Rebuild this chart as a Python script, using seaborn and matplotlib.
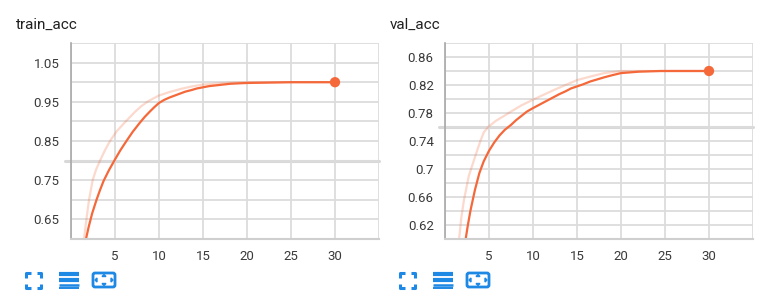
import matplotlib
matplotlib.use("Agg")
import matplotlib.pyplot as plt
import seaborn as sns
import pandas as pd
from matplotlib.patches import FancyBboxPatch, Polygon

# ---------------- data ----------------
train_smooth_x = [1.7, 2.0, 2.4, 2.9, 3.3, 3.7, 4.3, 5.0, 5.6, 6.3, 7.0, 7.8, 8.4, 9.0, 9.5, 10.0, 10.6, 11.2,
                  11.8, 12.4, 13.0, 13.7, 14.3, 15.0, 15.7, 16.5, 17.3, 18.1, 19.0, 20.0, 21.2, 22.5, 25.0, 30.0]
train_smooth_y = [0.600, 0.630, 0.665, 0.700, 0.725, 0.748, 0.775, 0.803, 0.826, 0.850, 0.873, 0.896, 0.912, 0.926,
                  0.937, 0.947, 0.955, 0.961, 0.966, 0.971, 0.976, 0.980, 0.984, 0.987, 0.990, 0.992, 0.994, 0.996,
                  0.997, 0.998, 0.9985, 0.999, 1.000, 1.000]
train_raw_x = [1.48, 1.75, 2.05, 2.46, 2.85, 3.3, 3.85, 4.43, 5.2, 6.14, 7.3, 8.0, 8.8, 10.0, 11.2, 12.5, 13.7,
               15.0, 16.3, 17.5, 20.0, 30.0]
train_raw_y = [0.600, 0.650, 0.700, 0.750, 0.777, 0.800, 0.826, 0.850, 0.875, 0.898, 0.925, 0.939, 0.952, 0.966,
               0.975, 0.983, 0.989, 0.994, 0.996, 0.998, 1.000, 1.000]

val_smooth_x = [2.35, 2.6, 2.9, 3.4, 3.9, 4.4, 5.0, 5.6, 6.2, 6.8, 7.5, 8.1, 8.7, 9.3, 10.0, 10.6, 11.2, 11.8, 12.4,
                13.0, 13.7, 14.3, 15.0, 15.7, 16.5, 17.3, 18.1, 19.0, 20.0, 21.0, 22.0, 24.5, 30.0]
val_smooth_y = [0.600, 0.620, 0.641, 0.670, 0.694, 0.711, 0.726, 0.738, 0.748, 0.756, 0.763, 0.770, 0.776, 0.782,
                0.787, 0.791, 0.795, 0.799, 0.803, 0.807, 0.811, 0.815, 0.818, 0.821, 0.825, 0.828, 0.831, 0.834,
                0.837, 0.838, 0.839, 0.840, 0.840]
val_raw_x = [1.6, 1.85, 2.16, 2.7, 3.3, 3.67, 4.05, 4.43, 5.0, 5.8, 6.6, 7.5, 8.7, 10.0, 11.2, 12.4, 13.7, 15.0,
             16.5, 18.1, 20.0, 30.0]
val_raw_y = [0.600, 0.630, 0.656, 0.690, 0.713, 0.727, 0.741, 0.753, 0.761, 0.769, 0.775, 0.782, 0.791, 0.799,
             0.806, 0.813, 0.820, 0.827, 0.832, 0.837, 0.840, 0.840]

titles = ["train_acc", "val_acc"]
x_ticks = [0, 5, 10, 15, 20, 25, 30, 35]
x_labels = ["", "5", "10", "15", "20", "25", "30", ""]
train_yticks = [0.65, 0.75, 0.85, 0.95, 1.05]
train_ylabels = ["0.65", "0.75", "0.85", "0.95", "1.05"]
val_yticks = [0.62, 0.66, 0.70, 0.74, 0.78, 0.82, 0.86]
val_ylabels = ["0.62", "0.66", "0.7", "0.74", "0.78", "0.82", "0.86"]

# ---------------- style ----------------
sns.set_theme(style="white")
plt.rcParams["font.family"] = ["Roboto", "DejaVu Sans"]

W, H = 782, 303
fig = plt.figure(figsize=(W / 100, H / 100), dpi=100)

ORANGE = "#f4683a"
GRID = "#dcdcdc"
BLUE = "#1e88e5"


def px_axes(l, t, r, b):
    return fig.add_axes([l / W, (H - b) / H, (r - l) / W, (b - t) / H])


def setup(ax, ylim, yticks, ylabels, minor_step, thick_y):
    ax.set_xlim(0, 35)
    ax.set_ylim(*ylim)
    ax.set_xticks(x_ticks)
    ax.set_xticklabels(x_labels)
    ax.set_yticks(yticks)
    ax.set_yticklabels(ylabels)
    n = int(round((ylim[1] - ylim[0]) / minor_step))
    minors = [ylim[0] + i * minor_step for i in range(n + 1)]
    ax.set_yticks(minors, minor=True)
    ax.grid(True, which="both", axis="y", color=GRID, lw=1.3)
    ax.grid(True, which="major", axis="x", color=GRID, lw=1.3)
    ax.tick_params(axis="both", which="both", length=3.6, width=1.0, color=GRID,
                   labelsize=9.5, labelcolor="#3a3a3a", direction="out")
    ax.tick_params(axis="y", which="both", pad=4.5)
    ax.tick_params(axis="x", which="both", pad=4)
    for s in ["top", "right"]:
        ax.spines[s].set_visible(False)
    ax.spines["left"].set_color("#a8a8a8")
    ax.spines["left"].set_linewidth(1.2)
    ax.spines["bottom"].set_color("#cfcfcf")
    ax.spines["bottom"].set_linewidth(1.5)
    ax.axhline(thick_y, xmin=-0.018, xmax=1.0, color="#d8d8d8", lw=2.2, clip_on=False, zorder=0.5)
    ax.set_xlabel("")
    ax.set_ylabel("")


def draw(ax, rx, ry, sx, sy):
    sns.lineplot(x=rx, y=ry, ax=ax, color=ORANGE, alpha=0.25, lw=1.6, sort=False, estimator=None)
    sns.lineplot(x=sx, y=sy, ax=ax, color=ORANGE, lw=1.6, sort=False, estimator=None)
    sns.scatterplot(x=[sx[-1]], y=[sy[-1]], ax=ax, color=ORANGE, s=55, edgecolor="none", zorder=5)


ax1 = px_axes(71, 43, 379, 239)
draw(ax1, train_raw_x, train_raw_y, train_smooth_x, train_smooth_y)
setup(ax1, (0.6, 1.1), train_yticks, train_ylabels, 0.05, 0.8)

ax2 = px_axes(445, 43, 753, 239)
draw(ax2, val_raw_x, val_raw_y, val_smooth_x, val_smooth_y)
setup(ax2, (0.6, 0.88), val_yticks, val_ylabels, 0.02, 0.76)

for ax in (ax1, ax2):
    for line in ax.lines:
        line.set_clip_on(False)
    for c in ax.collections:
        c.set_clip_on(False)

fig.text(16 / W, 1 - 29 / H, titles[0], fontsize=11, color="#212121", va="baseline", ha="left")
fig.text(390 / W, 1 - 29 / H, titles[1], fontsize=11, color="#212121", va="baseline", ha="left")

# ---------------- toolbar icons ----------------
ov = fig.add_axes([0, 0, 1, 1], zorder=-1)
ov.set_xlim(0, W)
ov.set_ylim(H, 0)
ov.axis("off")


def icons(dx):
    x0, x1, y0, y1 = 26 + dx, 41 + dx, 273, 288
    L = 4.5
    kw = dict(color=BLUE, lw=2.2, solid_capstyle="butt")
    ov.plot([x0, x0, x0 + L], [y0 + L, y0, y0], **kw)
    ov.plot([x1 - L, x1, x1], [y0, y0, y0 + L], **kw)
    ov.plot([x0, x0, x0 + L], [y1 - L, y1, y1], **kw)
    ov.plot([x1 - L, x1, x1], [y1, y1, y1 - L], **kw)
    for yy, lw in [(274, 3.0), (279.5, 3.0), (284.5, 1.8), (287.5, 1.4)]:
        ov.plot([59 + dx, 79 + dx], [yy, yy], color=BLUE, lw=lw, solid_capstyle="butt")
    ov.add_patch(FancyBboxPatch((93 + dx, 273), 22, 14, boxstyle="round,pad=0,rounding_size=2",
                                fill=False, ec=BLUE, lw=2.0))
    cx, cy = 104 + dx, 280
    ov.add_patch(Polygon([[cx - 2, cy - 3.5], [cx + 2, cy - 3.5], [cx, cy - 5.5]], color=BLUE))
    ov.add_patch(Polygon([[cx - 2, cy + 3.5], [cx + 2, cy + 3.5], [cx, cy + 5.5]], color=BLUE))
    ov.add_patch(Polygon([[cx - 7, cy - 2], [cx - 7, cy + 2], [cx - 9, cy]], color=BLUE))
    ov.add_patch(Polygon([[cx + 7, cy - 2], [cx + 7, cy + 2], [cx + 9, cy]], color=BLUE))


icons(0)
icons(374)

fig.savefig("out.png", dpi=100)
